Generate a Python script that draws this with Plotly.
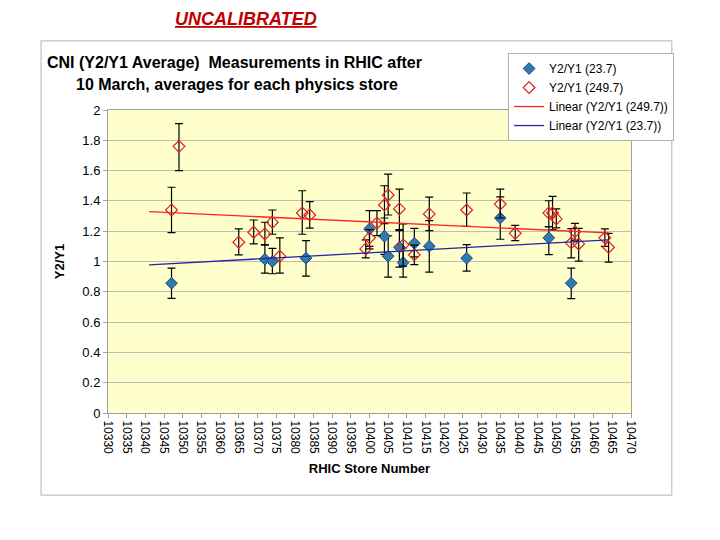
import numpy as np
import plotly.graph_objects as go

# Y2/Y1 (249.7) - red open diamonds
red_store = [10347, 10349, 10365, 10369, 10372, 10374, 10376, 10382, 10384, 10399,
             10400, 10402, 10404, 10405, 10408, 10409, 10412, 10416, 10426, 10435,
             10439, 10448, 10449, 10450, 10454, 10455, 10456, 10463, 10464]
red_ratio = [1.34, 1.76, 1.127, 1.193, 1.182, 1.259, 1.035, 1.32, 1.307, 1.083,
             1.156, 1.254, 1.373, 1.439, 1.347, 1.11, 1.044, 1.314, 1.34, 1.379,
             1.186, 1.32, 1.32, 1.281, 1.123, 1.197, 1.116, 1.156, 1.094]
red_hi = [1.49, 1.91, 1.215, 1.274, 1.259, 1.34, 1.156, 1.467, 1.395, 1.143,
          1.21, 1.336, 1.50, 1.577, 1.478, 1.248, 1.108, 1.425, 1.452, 1.478,
          1.239, 1.401, 1.43, 1.347, 1.217, 1.252, 1.219, 1.215, 1.186]
red_lo = [1.19, 1.60, 1.044, 1.116, 1.11, 1.18, 0.923, 1.18, 1.22, 1.024,
          1.10, 1.171, 1.25, 1.307, 1.21, 0.97, 0.98, 1.204, 1.232, 1.287,
          1.138, 1.23, 1.21, 1.222, 1.024, 1.14, 1.002, 1.10, 0.996]

# Y2/Y1 (23.7) - blue filled diamonds
blue_store = [10347, 10372, 10374, 10383, 10400, 10404, 10405, 10408, 10409, 10412,
              10416, 10426, 10435, 10448, 10454]
blue_ratio = [0.857, 1.015, 1.0, 1.022, 1.215, 1.167, 1.035, 1.094, 0.993, 1.12,
              1.101, 1.022, 1.287, 1.156, 0.857]
blue_hi = [0.956, 1.11, 1.087, 1.138, 1.336, 1.287, 1.17, 1.204, 1.09, 1.219,
           1.27, 1.112, 1.427, 1.23, 0.956]
blue_lo = [0.756, 0.923, 0.919, 0.903, 1.083, 1.047, 0.897, 0.963, 0.897, 1.03,
           0.93, 0.936, 1.147, 1.046, 0.755]

# linear trend lines as drawn on the chart
trend_store = [10341, 10464]
red_trend = [1.329, 1.189]
blue_trend = [0.978, 1.143]

x_ticks = list(range(10330, 10471, 5))

font = "Liberation Sans, Arial, sans-serif"

fig = go.Figure()

fig.add_trace(go.Scatter(
    x=blue_store, y=blue_ratio, mode="markers", name="Y2/Y1 (23.7)",
    marker=dict(symbol="diamond", size=9, color="#2E7DA4",
                line=dict(color="#1E3C9A", width=1)),
    error_y=dict(type="data", symmetric=False,
                 array=np.array(blue_hi) - np.array(blue_ratio),
                 arrayminus=np.array(blue_ratio) - np.array(blue_lo),
                 color="black", thickness=1.2, width=4)
))

fig.add_trace(go.Scatter(
    x=red_store, y=red_ratio, mode="markers", name="Y2/Y1 (249.7)",
    marker=dict(symbol="diamond-open", size=9, color="#E02020",
                line=dict(color="#E02020", width=1.2)),
    error_y=dict(type="data", symmetric=False,
                 array=np.array(red_hi) - np.array(red_ratio),
                 arrayminus=np.array(red_ratio) - np.array(red_lo),
                 color="black", thickness=1.2, width=4)
))

fig.add_trace(go.Scatter(
    x=trend_store, y=red_trend, mode="lines", name="Linear (Y2/Y1 (249.7))",
    line=dict(color="#FF2222", width=1.3)
))

fig.add_trace(go.Scatter(
    x=trend_store, y=blue_trend, mode="lines", name="Linear (Y2/Y1 (23.7))",
    line=dict(color="#2424A8", width=1.3)
))

# the page body adds an 8px offset, so margins are 8px smaller on the top/left
fig.update_layout(
    width=720, height=540,
    margin=dict(l=100, r=97, t=102, b=135),
    paper_bgcolor="white",
    plot_bgcolor="#FFFFCC",
    font=dict(family=font, size=12, color="black"),
    showlegend=True,
    legend=dict(x=0.765, y=1.188, xanchor="left", yanchor="top",
                bgcolor="white", bordercolor="#B0B0B0", borderwidth=1,
                font=dict(size=12), tracegroupgap=0, itemwidth=30),
    xaxis=dict(range=[10330, 10470], tickvals=x_ticks, ticktext=[str(v) for v in x_ticks],
               tickangle=90, showgrid=False, zeroline=False,
               showline=True, linecolor="#A0A0A0", mirror=True,
               ticks="outside", ticklen=4, tickcolor="#A0A0A0",
               tickfont=dict(size=12),
               title=dict(text="<b>RHIC Store Number</b>", font=dict(size=13), standoff=10)),
    yaxis=dict(range=[0, 2], dtick=0.2, showgrid=True, gridcolor="#C0C0B0",
               zeroline=False, showline=True, linecolor="#A0A0A0", mirror=True,
               ticks="outside", ticklen=4, tickcolor="#A0A0A0",
               tickfont=dict(size=13),
               title=dict(text="<b>Y2/Y1</b>", font=dict(size=13), standoff=14)),
)

# outer chart frame
fig.add_shape(type="rect", xref="paper", yref="paper",
              x0=-0.128, x1=1.078, y0=-0.271, y1=1.228,
              line=dict(color="#C0C0C0", width=1.2), layer="below")

fig.add_annotation(text="<b><i><u>UNCALIBRATED</u></i></b>", xref="paper", yref="paper",
                   x=0.264, y=1.30, xanchor="center", yanchor="middle", showarrow=False,
                   font=dict(size=18, color="#C00000"))
fig.add_annotation(text="<b>CNI (Y2/Y1 Average)  Measurements in RHIC after</b>",
                   xref="paper", yref="paper", x=-0.120, y=1.158,
                   xanchor="left", yanchor="middle", showarrow=False,
                   font=dict(size=16))
fig.add_annotation(text="<b>10 March, averages for each physics store</b>",
                   xref="paper", yref="paper", x=-0.065, y=1.085,
                   xanchor="left", yanchor="middle", showarrow=False,
                   font=dict(size=16))

fig.write_html("out.html")
